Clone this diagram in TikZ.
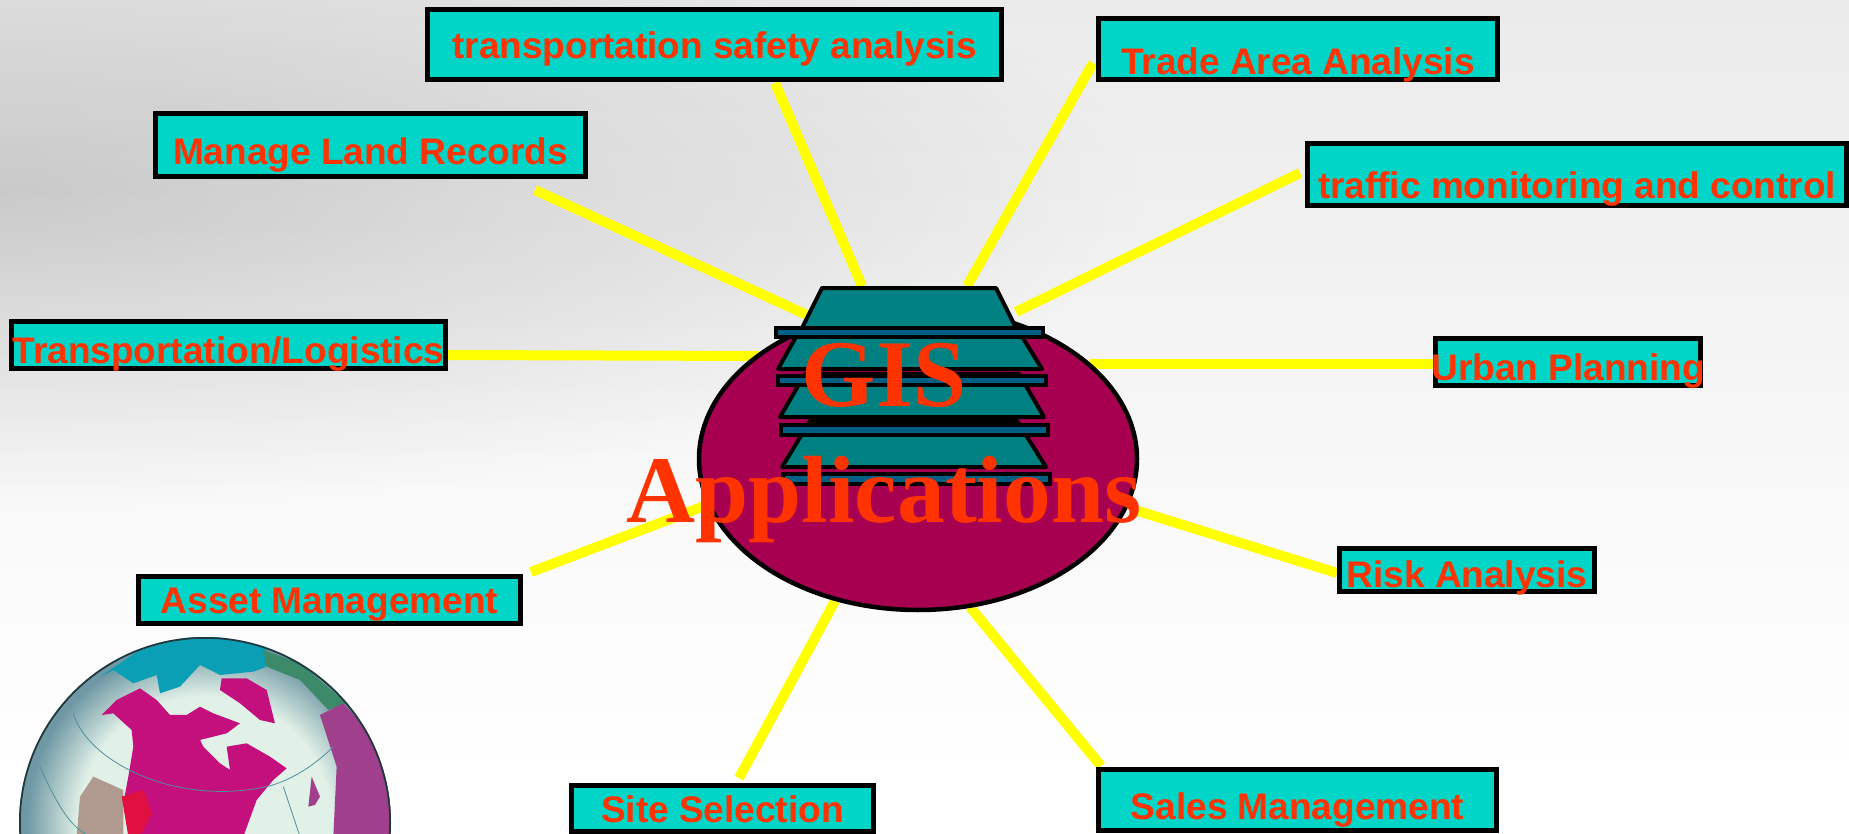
\documentclass[tikz,border=0pt]{standalone}
\usepackage{fontspec}
\setmainfont{Liberation Sans}
\newfontfamily\timesf{Liberation Serif}
\usetikzlibrary{shapes.geometric,fadings}
\definecolor{boxfill}{HTML}{00D5C8}
\definecolor{labelred}{HTML}{FF3300}
\definecolor{hubfill}{HTML}{A80050}
\definecolor{layerteal}{HTML}{008080}
\definecolor{barblue}{HTML}{005F85}
\definecolor{spokeyellow}{HTML}{FFFF00}
\definecolor{bgA}{HTML}{EEEEEE}
\definecolor{bgB}{HTML}{E9E9E9}
\definecolor{bgC}{HTML}{F0F0F0}
\definecolor{bgD}{HTML}{F9F9F9}
\definecolor{pinkland}{HTML}{C4107C}
\definecolor{capteal}{HTML}{0A9FB5}
\definecolor{capgreen}{HTML}{3C8A6A}
\definecolor{eurasia}{HTML}{A0408C}
\definecolor{redpatch}{HTML}{E01040}
\definecolor{brownland}{HTML}{B09A90}
\definecolor{gridline}{HTML}{4F8F9A}
\definecolor{paleland}{HTML}{E2F1E8}
\definecolor{rimblue}{HTML}{6F98A4}
\pgfdeclareverticalshading{bgshade}{100bp}{
  color(0bp)=(white); color(28bp)=(white); color(45bp)=(bgD); color(62bp)=(bgC); color(80bp)=(bgB); color(100bp)=(bgA)}
\pgfdeclareradialshading{globeshade}{\pgfpoint{0bp}{0bp}}{
  color(0bp)=(paleland); color(17bp)=(paleland); color(24bp)=(rimblue); color(25bp)=(rimblue); color(50bp)=(rimblue)}
\tikzfading[name=spotfade, inner color=transparent!55, outer color=transparent!100]
\tikzset{
  labelbox/.style={draw=black,line width=5pt,fill=boxfill,text=labelred,inner ysep=0pt,inner xsep=-8pt,
    font=\bfseries\fontsize{37}{44}\selectfont,text depth=0pt},
  spoke/.style={draw=spokeyellow,line width=10pt},
  layer/.style={draw=black,fill=layerteal,line width=4pt,line join=round},
  bar/.style={draw=black,fill=barblue,line width=4pt},
  hubtext/.style={text=labelred,font=\timesf\bfseries\fontsize{95.5}{110}\selectfont,inner sep=0pt,anchor=base},
  grat/.style={draw=gridline,line width=0.8pt}
}
\begin{document}
\begin{tikzpicture}[x=1pt,y=-1pt]
\useasboundingbox (0,0) rectangle (1849,834);
% background
\shade[shading=bgshade] (0,0) rectangle (1849,834);
\begin{scope}
\clip (0,0) rectangle (1849,834);
\fill[black,path fading=spotfade,opacity=.35] (0,190) ellipse [x radius=1150,y radius=320];
\end{scope}
% globe
\begin{scope}
\clip (205,823) circle (186);
\shade[shading=globeshade] (205,823) circle (186);
% coordinates from the crop: x/3, 600+y/3
\begin{scope}[xscale=1/3,yscale=1/3,shift={(0,1800)}]
\fill[capteal] (300,230) -- (420,150) -- (600,100) -- (800,140) -- (800,200) -- (760,215) -- (660,225) -- (600,195) -- (540,260) -- (480,280) -- (470,225) -- (400,250) -- (340,210) -- cycle;
\fill[capgreen] (790,150) -- (900,190) -- (1040,310) -- (985,330) -- (900,240) -- (800,200) -- cycle;
\fill[eurasia] (960,345) -- (1030,310) -- (1130,420) -- (1190,600) -- (1190,710) -- (1000,710) -- (1010,500) -- cycle;
\fill[brownland] (230,710) -- (240,590) -- (280,530) -- (370,570) -- (370,710) -- cycle;
\fill[pinkland] (305,345) -- (350,300) -- (420,265) -- (470,300) -- (510,345) -- (560,345) -- (600,320) -- (640,340) -- (720,370) -- (680,400) -- (600,420) -- (610,440) -- (660,490) -- (690,510) -- (680,440) -- (740,430) -- (810,470) -- (860,505) -- (820,540) -- (770,600) -- (730,710) -- (400,710) -- (370,610) -- (385,530) -- (400,440) -- (395,390) -- (340,340) -- cycle;
\fill[pinkland] (665,235) -- (740,235) -- (800,270) -- (825,370) -- (780,360) -- (720,310) -- (660,270) -- cycle;
\fill[redpatch] (365,590) -- (430,570) -- (455,640) -- (420,710) -- (385,710) -- cycle;
\fill[eurasia] (925,620) -- (935,530) -- (960,590) -- (945,615) -- cycle;
\draw[grat] (220,340) .. controls (260,480) and (520,620) .. (800,560) .. controls (880,540) and (950,490) .. (1000,440);
\draw[grat] (120,500) .. controls (200,680) and (240,700) .. (300,720);
\draw[grat] (850,560) -- (900,710);
\end{scope}
\draw[black!60!gridline,line width=2.5pt] (205,823) circle (185.5);
\end{scope}
% free ends of the spokes
\coordinate (s1a) at (775,83);   \coordinate (s1b) at (862,286);
\coordinate (s2a) at (1093,63);  \coordinate (s2b) at (967,286);
\coordinate (s3a) at (535,190);  \coordinate (s3b) at (807,315);
\coordinate (s4a) at (448,355);  \coordinate (s4b) at (760,356);
\coordinate (s5a) at (1300,173); \coordinate (s5b) at (1016,312);
\coordinate (s6a) at (1433,364); \coordinate (s6b) at (1090,364);
\coordinate (s7a) at (1337,573); \coordinate (s7b) at (1138,511);
\coordinate (s8a) at (1101,766); \coordinate (s8b) at (970,607);
\coordinate (s9a) at (739,778);  \coordinate (s9b) at (835,601);
\coordinate (s10a) at (531,572); \coordinate (s10b) at (707,505);
\foreach \k in {1,...,10} {\draw[spoke] (s\k a) -- (s\k b);}
% label boxes
\node[labelbox,minimum width=574pt,minimum height=70pt,text height=29pt] (safety) at (714.5,44.5) {transportation safety analysis};
\node[labelbox,minimum width=399pt,minimum height=61pt,text height=52pt] (trade) at (1298,49) {Trade Area Analysis};
\node[labelbox,minimum width=430pt,minimum height=63pt,text height=40pt] (land) at (370.5,145) {Manage Land Records};
\node[labelbox,minimum width=539pt,minimum height=62pt,text height=49pt] (traffic) at (1577,174.5) {traffic monitoring and control};
\node[labelbox,minimum width=434pt,minimum height=47pt,text height=36pt] (logistics) at (228.5,345) {Transportation/Logistics};
\node[labelbox,minimum width=265pt,minimum height=47pt,text height=36pt] (urban) at (1568,362) {Urban Planning};
\node[labelbox,minimum width=255pt,minimum height=43pt,text height=35pt] (risk) at (1467,570) {Risk Analysis};
\node[labelbox,minimum width=382pt,minimum height=47pt,text height=26pt] (asset) at (329.5,600) {Asset Management};
\node[labelbox,minimum width=302pt,minimum height=46pt,text height=27pt] (site) at (722.5,808.5) {Site Selection};
\node[labelbox,minimum width=398pt,minimum height=61pt,text height=39pt] (sales) at (1297.5,799.5) {Sales Management};
% hub
\node[draw=black,fill=hubfill,line width=4.5pt,ellipse,inner sep=0pt,minimum width=438pt,minimum height=302pt] (hub) at (918,459) {};
% stack, lowest layer first
\draw[layer] (810,421) -- (1017,421) -- (1046,467) -- (782,467) -- cycle;
\draw[bar] (783,474) rectangle (1050,484);
\draw[bar] (781,425) rectangle (1048,435);
\draw[layer] (805,374) -- (1019,374) -- (1044,417) -- (780,417) -- cycle;
\draw[bar] (778,376) rectangle (1046,385);
\draw[layer] (797,335) -- (1021,335) -- (1042,369) -- (778,369) -- cycle;
\draw[layer] (822,288) -- (996,288) -- (1018,332) -- (800,332) -- cycle;
\draw[bar] (776,328) rectangle (1043,337);
% title
\node[hubtext] (gis) at (884,406) {GIS};
\node[hubtext] (apps) at (884,522) {Applications};
\end{tikzpicture}
\end{document}
